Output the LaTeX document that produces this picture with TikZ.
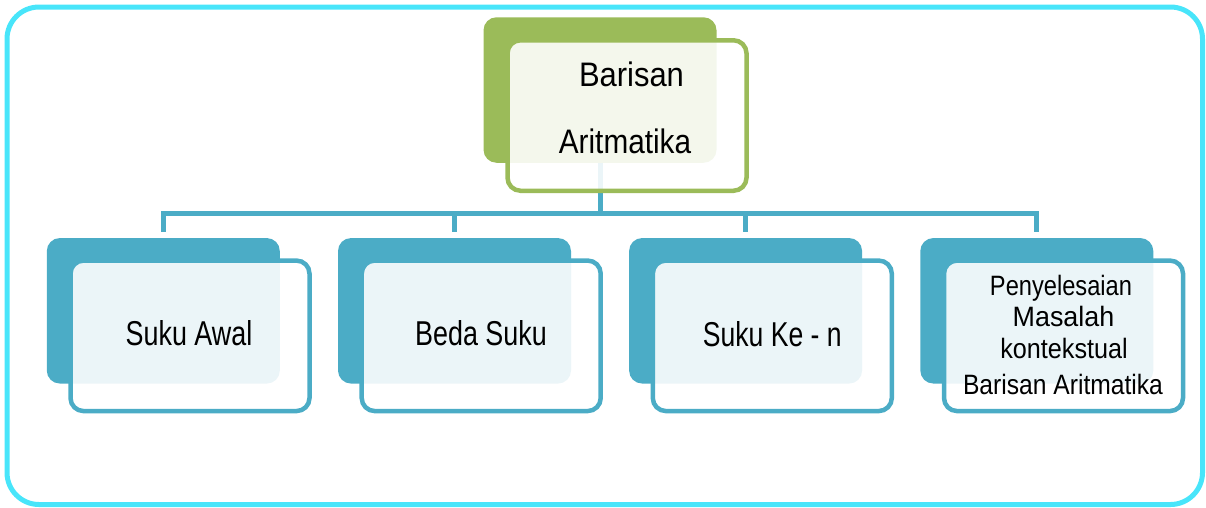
\documentclass[tikz,border=0pt]{standalone}
\usepackage{fontspec}
\setmainfont{Liberation Sans}
\usepackage{graphicx}
\definecolor{framecyan}{RGB}{72,229,250}
\definecolor{accentblue}{RGB}{75,172,198}
\definecolor{accentgreen}{RGB}{155,187,89}
\newcommand\hsq[2]{\scalebox{#1}[1]{#2}}
\tikzset{
  backbox/.style={rectangle, rounded corners=13pt, minimum width=233pt,
    minimum height=145.5pt, inner sep=0pt, fill=#1},
  frontbox/.style={rectangle, rounded corners=13pt, minimum width=239pt,
    minimum height=150.5pt, inner sep=0pt, draw=#1, line width=4.5pt,
    fill=white, fill opacity=0.89},
  conn/.style={draw=accentblue, line width=5pt},
  lbl/.style={anchor=base, inner sep=0pt, text=black},
  bigtxt/.style={lbl, font=\fontsize{34}{40}\selectfont},
  midtxt/.style={lbl, font=\fontsize{34.5}{40}\selectfont},
  smalltxt/.style={lbl, font=\fontsize{28}{32}\selectfont},
}
\begin{document}
\begin{tikzpicture}[x=1pt, y=-1pt]
\useasboundingbox (0,0) rectangle (1206,507);

% outer frame
\draw[framecyan, line width=5pt, rounded corners=32pt] (7,7) rectangle (1202.5,504.5);

% back (solid) boxes
\node[backbox=accentgreen] (root-back) at (600,90) {};
\node[backbox=accentblue] (c1-back) at (163.3,310.8) {};
\node[backbox=accentblue] (c2-back) at (454.5,310.8) {};
\node[backbox=accentblue] (c3-back) at (745.6,310.8) {};
\node[backbox=accentblue] (c4-back) at (1036.8,310.8) {};

% tree connectors
\coordinate (bus) at (600,213);
\draw[conn] (root-back.south) -- (bus);
\foreach \c in {c1,c2,c3,c4}
  \draw[conn, shorten <=6pt] (\c-back.north) |- (bus);

% front (outlined, translucent) boxes
\node[frontbox=accentgreen] (root-front) at (627,115.5) {};
\node[frontbox=accentblue] (c1-front) at (190,335.8) {};
\node[frontbox=accentblue] (c2-front) at (481.2,335.8) {};
\node[frontbox=accentblue] (c3-front) at (772.3,335.8) {};
\node[frontbox=accentblue] (c4-front) at (1063.5,335.8) {};

% labels
\node[bigtxt] (root-t1) at (631.5,86) {\hsq{0.91}{Barisan}};
\node[bigtxt] (root-t2) at (625,153) {\hsq{0.875}{Aritmatika}};

\node[midtxt] (c1-t) at (189,345.7) {\hsq{0.78}{Suku Awal}};
\node[midtxt] (c2-t) at (481,345.7) {\hsq{0.78}{Beda Suku}};
\node[midtxt] (c3-t) at (772.3,346) {\hsq{0.77}{Suku Ke - n}};

\node[smalltxt] (c4-t1) at (1061,295) {\hsq{0.845}{Penyelesaian}};
\node[smalltxt] (c4-t2) at (1063.5,326.7) {\hsq{0.96}{Masalah}};
\node[smalltxt] (c4-t3) at (1064,358) {\hsq{0.9}{kontekstual}};
\node[smalltxt] (c4-t4) at (1063,394) {\hsq{0.88}{Barisan Aritmatika}};
\end{tikzpicture}
\end{document}
